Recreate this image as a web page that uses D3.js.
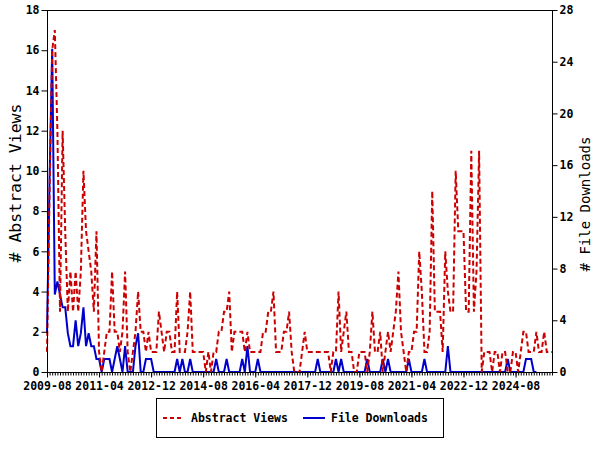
<!DOCTYPE html>
<html><head><meta charset="utf-8">
<script src="https://cdn.jsdelivr.net/npm/d3@7"></script>
<style>body{margin:0;background:#fff}svg{display:block}</style>
</head><body>
<svg id="c" width="600" height="450"></svg>
<script>
const startYear = 2009, startMonth = 8;
const abstractViews = [1,9,16,17,12,3,12,7,3,5,3,5,3,5,10,7,6,5,3,7,1,0,1,2,2,5,2,2,1,2,5,1,0,1,2,4,2,2,1,2,1,1,1,3,2,1,2,2,
1,1,4,1,1,1,2,4,1,1,1,1,1,0,1,0,1,1,2,2,3,3,4,1,2,2,2,2,1,2,1,1,1,1,1,2,2,3,3,4,1,1,1,2,2,3,1,0,0,0,1,2,1,1,1,1,1,1,1,1,1,0,1,1,4,1,2,3,1,1,0,0,1,
1,1,0,1,3,1,1,2,0,1,2,1,2,3,5,2,1,0,1,1,2,2,6,4,1,1,2,9,3,3,3,1,6,4,3,3,10,7,7,7,3,3,11,3,5,11,0,1,1,1,0,1,
1,0,1,1,0,0,1,1,0,1,2,2,1,1,1,2,1,1,2,1,1,1];
const fileDownloads = [3,15,25,6,7,6,5,5,3,2,2,4,2,3,5,2,3,2,2,1,1,0,1,1,1,0,1,2,1,0,2,0,0,0,2,3,0,0,1,1,1,0,0,0,0,0,0,0,
0,0,1,0,1,0,0,1,0,0,0,0,0,0,0,0,0,1,0,0,0,1,0,0,0,0,0,1,0,2,0,0,0,1,0,0,0,0,0,0,0,0,0,0,0,0,0,0,0,0,0,0,0,0,0,0,1,0,0,0,0,0,0,1,0,1,0,0,0,0,0,
0,0,0,0,1,0,0,0,0,0,1,0,1,0,0,0,0,0,0,0,1,0,0,0,0,0,1,0,0,0,0,0,0,0,0,2,0,0,0,0,0,0,0,0,0,0,0,0,
0,0,0,0,0,0,0,0,0,0,1,0,0,0,0,0,0,1,1,1,0,0];
const months = abstractViews.map((d,i)=>{const m=startMonth-1+i;return (startYear+Math.floor(m/12))+"-"+String(m%12+1).padStart(2,"0");});
const xTickLabels = ["2009-08","2011-04","2012-12","2014-08","2016-04","2017-12","2019-08","2021-04","2022-12","2024-08"];
const leftTicks = [0,2,4,6,8,10,12,14,16,18];
const rightTicks = [0,4,8,12,16,20,24,28];
const seriesNames = ["Abstract Views","File Downloads"];
const axisTitles = ["# Abstract Views","# File Downloads"];

const svg = d3.select("#c");
const L=47, R=552, T=10, B=372;
const font = "'DejaVu Sans Mono', monospace";
const x = d3.scaleLinear().domain([0, months.length-1]).range([L,R]);
const yL = d3.scaleLinear().domain([0,18]).range([B,T]);
const yR = d3.scaleLinear().domain([0,28]).range([B,T]);
const red="#cc0000", blue="#0000cc";

const line = (ys)=>d3.line().x((d,i)=>x(i)).y(d=>ys(d));
svg.append("path").datum(fileDownloads).attr("d",line(yR)).attr("fill","none").attr("stroke",blue).attr("stroke-width",2).attr("stroke-linejoin","miter");
svg.append("path").datum(abstractViews).attr("d",line(yL)).attr("fill","none").attr("stroke",red).attr("stroke-width",2).attr("stroke-dasharray","5,3");

// frame
svg.append("rect").attr("x",L+0.5).attr("y",T+0.5).attr("width",R-L).attr("height",B-T).attr("fill","none").attr("stroke","#000");

// axes
const gl = svg.append("g").attr("transform",`translate(${L+0.5},0)`)
  .call(d3.axisLeft(yL).tickValues(leftTicks).tickSize(6).tickSizeOuter(0).tickPadding(2));
const gr = svg.append("g").attr("transform",`translate(${R+0.5},0)`)
  .call(d3.axisRight(yR).tickValues(rightTicks).tickSize(5).tickSizeOuter(0).tickPadding(2));
const gxm = svg.append("g").attr("transform",`translate(0,${B+0.5})`)
  .call(d3.axisBottom(x).tickValues(d3.range(months.length)).tickSize(3).tickFormat(""));
const majorIdx = xTickLabels.map(l=>months.indexOf(l));
const gx = svg.append("g").attr("transform",`translate(0,${B+0.5})`)
  .call(d3.axisBottom(x).tickValues(majorIdx).tickSize(5).tickPadding(4).tickFormat(i=>months[i]));
[gl,gr,gxm,gx].forEach(g=>{g.select(".domain").remove();g.selectAll("line").attr("stroke","#000");
  g.selectAll("text").attr("font-family",font).attr("font-weight","bold").attr("font-size","11.5px").attr("fill","#000");});
gx.selectAll("text").attr("dy","0.72em");

// axis titles
svg.append("text").attr("transform","translate(21,183) rotate(-90)").attr("text-anchor","middle")
  .attr("font-family",font).attr("font-size","16.5px").attr("fill","#000").text(axisTitles[0]);
svg.append("text").attr("transform","translate(590,204) rotate(-90)").attr("text-anchor","middle")
  .attr("font-family",font).attr("font-size","14px").attr("fill","#000").text(axisTitles[1]);

// legend
svg.append("rect").attr("x",156.5).attr("y",398.5).attr("width",287).attr("height",39).attr("fill","#fff").attr("stroke","#000");
svg.append("line").attr("x1",163).attr("x2",183).attr("y1",418).attr("y2",418).attr("stroke",red).attr("stroke-width",2).attr("stroke-dasharray","4,3");
svg.append("text").attr("x",191).attr("y",422).attr("font-family",font).attr("font-weight","bold").attr("font-size","11.5px").text(seriesNames[0]);
svg.append("line").attr("x1",303).attr("x2",325).attr("y1",418).attr("y2",418).attr("stroke",blue).attr("stroke-width",2);
svg.append("text").attr("x",331).attr("y",422).attr("font-family",font).attr("font-weight","bold").attr("font-size","11.5px").text(seriesNames[1]);
</script>
</body></html>
